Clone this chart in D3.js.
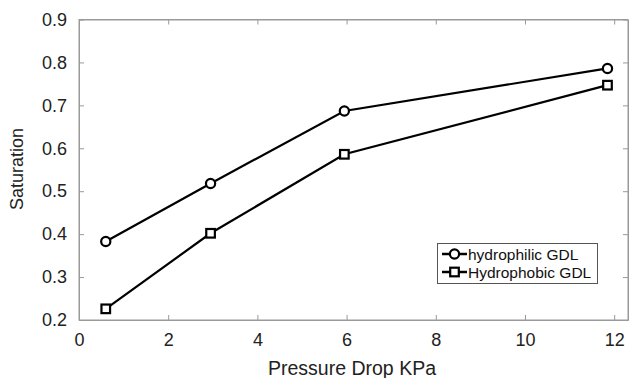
<!DOCTYPE html>
<html>
<head>
<meta charset="utf-8">
<script src="https://cdn.jsdelivr.net/npm/d3@7"></script>
<style>
  body { margin: 0; background: #fff; }
  svg { display: block; font-family: "Liberation Sans", Arial, sans-serif; }
</style>
</head>
<body>
<div id="chart"></div>
<script>
// Data
const pressure = [0.6, 2.95, 5.95, 11.85];
const hydrophilic = [0.383, 0.518, 0.687, 0.786];
const hydrophobic = [0.226, 0.402, 0.586, 0.747];
const seriesNames = ["hydrophilic GDL", "Hydrophobic GDL"];
const xTicks = [0, 2, 4, 6, 8, 10, 12];
const yTicks = [0.2, 0.3, 0.4, 0.5, 0.6, 0.7, 0.8, 0.9];

const width = 630, height = 378;
const plotLeft = 79, plotRight = 628, plotTop = 19.5, plotBottom = 320;

const svg = d3.select("#chart").append("svg")
    .attr("width", width)
    .attr("height", height);

const x = d3.scaleLinear().domain([0, 12.31]).range([plotLeft, plotRight]);
const y = d3.scaleLinear().domain([0.2, 0.9]).range([plotBottom, plotTop]);

// Frame
svg.append("rect")
    .attr("x", plotLeft).attr("y", plotTop)
    .attr("width", plotRight - plotLeft).attr("height", plotBottom - plotTop)
    .attr("fill", "none")
    .attr("stroke", "#999")
    .attr("stroke-width", 1);

// Axes (ticks pointing inward)
const xAxis = svg.append("g")
    .attr("transform", `translate(0,${plotBottom})`)
    .call(d3.axisBottom(x).tickValues(xTicks).tickSizeInner(-5).tickSizeOuter(0).tickPadding(13));
const xTop = svg.append("g")
    .attr("transform", `translate(0,${plotTop})`)
    .call(d3.axisTop(x).tickValues(xTicks).tickSizeInner(-5).tickSizeOuter(0).tickFormat(""));
const yAxis = svg.append("g")
    .attr("transform", `translate(${plotLeft},0)`)
    .call(d3.axisLeft(y).tickValues(yTicks).tickSizeInner(-5).tickSizeOuter(0).tickPadding(12).tickFormat(d3.format(".1f")));
const yRight = svg.append("g")
    .attr("transform", `translate(${plotRight},0)`)
    .call(d3.axisRight(y).tickValues(yTicks).tickSizeInner(-5).tickSizeOuter(0).tickFormat(""));

[xAxis, xTop, yAxis, yRight].forEach(g => {
    g.select(".domain").attr("stroke", "#999");
    g.selectAll(".tick line").attr("stroke", "#999");
    g.selectAll("text")
        .attr("font-family", "Liberation Sans, Arial, sans-serif")
        .attr("font-size", 18)
        .attr("fill", "#222");
});
xAxis.selectAll("text").attr("dy", "0.71em");

// Axis titles
svg.append("text")
    .attr("x", 352).attr("y", 375)
    .attr("text-anchor", "middle")
    .attr("font-size", 19.5)
    .attr("fill", "#222")
    .text("Pressure Drop KPa");

svg.append("text")
    .attr("transform", "translate(23,169) rotate(-90)")
    .attr("text-anchor", "middle")
    .attr("font-size", 18)
    .attr("fill", "#222")
    .text("Saturation");

// Lines
const line = d3.line()
    .x((d, i) => x(pressure[i]))
    .y(d => y(d));

const series = [hydrophilic, hydrophobic];
series.forEach((vals, s) => {
    svg.append("path")
        .datum(vals)
        .attr("d", line)
        .attr("fill", "none")
        .attr("stroke", "#000")
        .attr("stroke-width", 2.2);
});

function drawMarker(g, s, cx, cy) {
    if (s === 0) {
        g.append("circle")
            .attr("cx", cx).attr("cy", cy).attr("r", 4.6)
            .attr("fill", "#fff").attr("stroke", "#000").attr("stroke-width", 2.2);
    } else {
        g.append("rect")
            .attr("x", cx - 4.3).attr("y", cy - 4.3)
            .attr("width", 8.6).attr("height", 8.6)
            .attr("fill", "#fff").attr("stroke", "#000").attr("stroke-width", 2.2);
    }
}

series.forEach((vals, s) => {
    vals.forEach((v, i) => drawMarker(svg, s, x(pressure[i]), y(v)));
});

// Legend
const legend = svg.append("g");
legend.append("rect")
    .attr("x", 437.5).attr("y", 243.5)
    .attr("width", 160).attr("height", 40)
    .attr("fill", "#fff")
    .attr("stroke", "#555")
    .attr("stroke-width", 1);

seriesNames.forEach((name, s) => {
    const ly = 254 + s * 18;
    legend.append("line")
        .attr("x1", 442).attr("x2", 467)
        .attr("y1", ly).attr("y2", ly)
        .attr("stroke", "#000").attr("stroke-width", 2.5);
    drawMarker(legend, s, 454.5, ly);
    legend.append("text")
        .attr("x", 468).attr("y", ly + 5.5)
        .attr("font-size", 15.5)
        .attr("fill", "#111")
        .text(name);
});
</script>
</body>
</html>
